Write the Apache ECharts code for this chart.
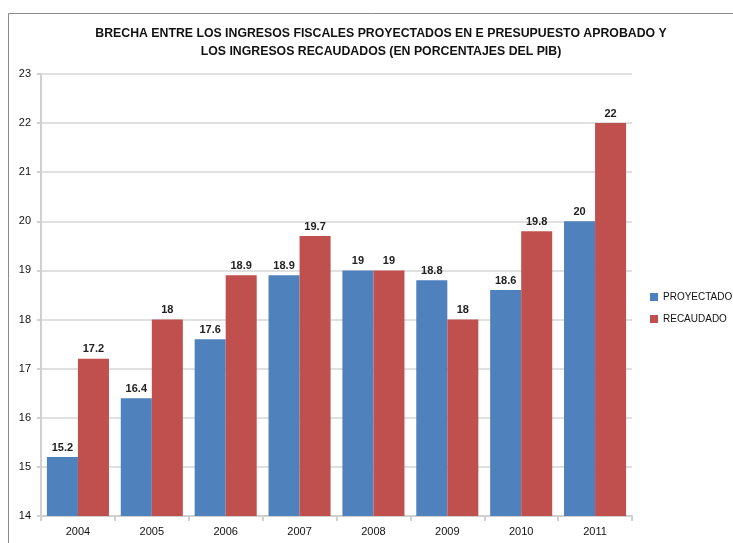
<!DOCTYPE html>
<html>
<head>
<meta charset="utf-8">
<script src="https://cdn.jsdelivr.net/npm/echarts@6/dist/echarts.min.js"></script>
<style>
  html, body { margin: 0; padding: 0; background: #fff; }
  #chart { width: 733px; height: 543px; }
</style>
</head>
<body>
<div id="chart"></div>
<script>
const years = ["2004", "2005", "2006", "2007", "2008", "2009", "2010", "2011"];
const proyectado = [15.2, 16.4, 17.6, 18.9, 19, 18.8, 18.6, 20];
const recaudado = [17.2, 18, 18.9, 19.7, 19, 18, 19.8, 22];

const font = "'Liberation Sans', sans-serif";

const chart = echarts.init(document.getElementById("chart"));

const labelStyle = {
    show: true,
    position: "top",
    distance: 4,
    color: "#222",
    fontFamily: font,
    fontWeight: "bold",
    fontSize: 11
};

chart.setOption({
    animation: false,
    backgroundColor: "#fff",
    graphic: [{
        type: "rect",
        shape: {x: 8.5, y: 13.5, width: 900, height: 700},
        style: {fill: "none", stroke: "#8a8a8a", lineWidth: 1}
    }],
    title: {
        text: "BRECHA ENTRE LOS INGRESOS FISCALES PROYECTADOS EN E PRESUPUESTO APROBADO Y\nLOS INGRESOS RECAUDADOS (EN PORCENTAJES DEL PIB)",
        left: 376,
        textAlign: "center",
        top: 20,
        textStyle: {
            fontFamily: font,
            fontWeight: "bold",
            fontSize: 12.3,
            lineHeight: 18,
            color: "#111"
        }
    },
    legend: {
        orient: "vertical",
        left: 645,
        top: 287,
        itemWidth: 8,
        itemHeight: 8,
        itemGap: 12,
        icon: "rect",
        textStyle: {fontFamily: font, fontSize: 10, color: "#111"},
        data: ["PROYECTADO", "RECAUDADO"]
    },
    grid: {left: 41, right: 101, top: 74, bottom: 27, containLabel: false},
    xAxis: {
        type: "category",
        data: years,
        axisLine: {lineStyle: {color: "#d0d0d0", width: 2}},
        axisTick: {show: true, length: 5, lineStyle: {color: "#d0d0d0", width: 2}},
        axisLabel: {color: "#111", fontFamily: font, fontSize: 11, margin: 10}
    },
    yAxis: {
        type: "value",
        min: 14,
        max: 23,
        interval: 1,
        axisLine: {show: true, lineStyle: {color: "#d0d0d0", width: 2}},
        axisTick: {show: true, length: 4, lineStyle: {color: "#d0d0d0", width: 2}},
        axisLabel: {color: "#111", fontFamily: font, fontSize: 11, margin: 10},
        splitLine: {lineStyle: {color: "#d6d6d6", width: 1.5}}
    },
    series: [{
        name: "PROYECTADO",
        type: "bar",
        data: proyectado,
        barGap: "0%",
        barCategoryGap: "16%",
        itemStyle: {color: "#4f81bd"},
        label: labelStyle
    }, {
        name: "RECAUDADO",
        type: "bar",
        data: recaudado,
        barGap: "0%",
        barCategoryGap: "16%",
        itemStyle: {color: "#c0504d"},
        label: labelStyle
    }]
});
</script>
</body>
</html>
